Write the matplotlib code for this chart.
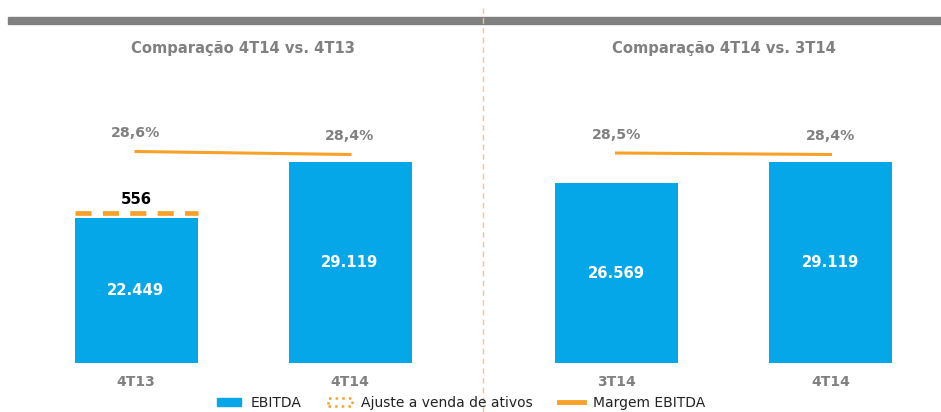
import matplotlib.pyplot as plt
from matplotlib.patches import Patch, Rectangle
from matplotlib.lines import Line2D

# dados
left_cats = ["4T13", "4T14"]
left_ebitda = [22449, 29119]
left_margin = [28.6, 28.4]
right_cats = ["3T14", "4T14"]
right_ebitda = [26569, 29119]
right_margin = [28.5, 28.4]
ajuste = 556  # ajuste a venda de ativos (4T13)

titles = ["Comparação 4T14 vs. 4T13", "Comparação 4T14 vs. 3T14"]

blue = "#05A7E8"
orange = "#F7A128"
gray = "#808080"

W, H = 941, 412
fig = plt.figure(figsize=(W / 100, H / 100), dpi=100)

def fx(px):
    return px / W

def fy(py):
    return 1 - py / H

# faixa cinza no topo + linha tracejada divisoria
fig.add_artist(Rectangle((fx(8), fy(24)), fx(941 - 8), 7 / H, color=gray, transform=fig.transFigure, zorder=0))
fig.add_artist(Line2D([fx(483), fx(483)], [fy(8), 0], color="#F5C38A", lw=1, ls=(0, (4, 3)), transform=fig.transFigure))

ax_w = 430
half = ax_w / 214 / 2
bar_w = 123 / 214
ybot, ytop = 5179, 5179 + 303 / 0.008396
panels = [
    (28, left_cats, left_ebitda, left_margin, titles[0]),
    (508.5, right_cats, right_ebitda, right_margin, titles[1]),
]

for i, (x0, cats, vals, marg, title) in enumerate(panels):
    ax = fig.add_axes([fx(x0), fy(363), ax_w / W, 303 / H])
    xs = [0, 1]
    ax.bar(xs, vals, width=bar_w, color=blue, zorder=2)
    for x, v in zip(xs, vals):
        ax.text(x, (v + ybot) / 2, f"{v/1000:.3f}", ha="center", va="center",
                color="white", fontsize=10.7, fontweight="bold", zorder=3)
    if i == 0:
        top = vals[0] + ajuste
        ax.hlines(top, -bar_w / 2, bar_w / 2, color=orange, lw=3.4,
                  ls=(0, (3.4, 2.4)), zorder=3)
        ax.text(0, top + 700, f"{ajuste}", ha="center", va="bottom",
                color="black", fontsize=10.7, fontweight="bold")
    ax.set_xlim(0.5 - half, 0.5 + half)
    ax.set_ylim(ybot, ytop)
    ax.set_xticks(xs)
    ax.set_xticklabels(cats, color=gray, fontsize=10, fontweight="bold")
    ax.tick_params(axis="x", length=0, pad=9)
    ax.set_yticks([])
    for s in ax.spines.values():
        s.set_visible(False)
    ax.patch.set_alpha(0)

    ax2 = ax.twinx()
    ax2.plot(xs, marg, color=orange, lw=2.2, zorder=4)
    for x, m in zip(xs, marg):
        ax2.text(x, m + 0.75, f"{m:.1f}%".replace(".", ","), ha="center", va="bottom",
                 color=gray, fontsize=10.2, fontweight="bold")
    ax2.set_ylim(14.5, 34.7)
    ax2.set_yticks([])
    for s in ax2.spines.values():
        s.set_visible(False)

    fig.text(fx(x0 + ax_w / 2), fy(48), title, ha="center", va="center",
             color=gray, fontsize=10.6, fontweight="bold")

handles = [
    Patch(facecolor=blue, edgecolor=blue),
    Patch(facecolor="white", edgecolor=orange, ls=":", lw=1.8),
    Line2D([0], [0], color=orange, lw=3.5),
]
labels = ["EBITDA", "Ajuste a venda de ativos", "Margem EBITDA"]
fig.legend(handles, labels, loc="center", bbox_to_anchor=(fx(461), fy(403)), ncol=3,
           frameon=False, fontsize=10, handlelength=1.75, handleheight=0.55,
           handletextpad=0.65, columnspacing=1.9, labelcolor="#222222")

fig.savefig("out.png", dpi=100)
